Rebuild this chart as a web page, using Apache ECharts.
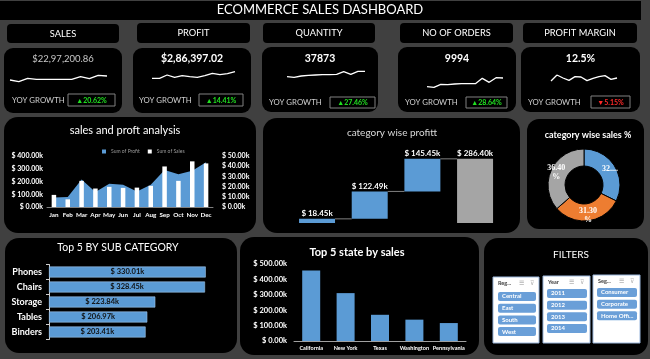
<!DOCTYPE html>
<html><head><meta charset="utf-8">
<script src="https://cdn.jsdelivr.net/npm/echarts@6/dist/echarts.min.js"></script>
<style>html,body{margin:0;padding:0;background:#404040}#c{width:650px;height:359px}</style>
</head><body><div id="c"></div>
<script>
// ---------- DATA ----------
const months = ['Jan','Feb','Mar','Apr','May','Jun','Jul','Aug','Sep','Oct','Nov','Dec'];
const monthlySales = [95,60,205,145,158,150,152,166,318,205,358,342];          // $k
const monthlyProfit = [9.2,9.9,27,14.8,22.7,21.7,15.1,21.7,36.2,32.2,35.5,43.8]; // $k
const salesTicks = [0,100,200,300,400];
const profitTicks = [0,10,20,30,40,50];
const profitCategories = ['Furniture','Office Supplies','Technology','Total'];
const categoryProfit = [18.45,122.49,145.45];
const categoryProfitTotal = 286.40;
const pieCategories = ['Furniture','Office Supplies','Technology'];
const pieShare = [32.30,31.30,36.40];
const pieLabels = ['32....','31.30\n%','36.40\n%'];
const subCategories = ['Phones','Chairs','Storage','Tables','Binders'];
const subCategorySales = [330.01,328.45,223.84,206.97,203.41];
const states = ['California','New York','Texas','Washington','Pennsylvania'];
const stateSales = [457.69,310.88,170.19,138.64,116.51];
const stateTicks = [0,100,200,300,400,500];
const regions = ['Central','East','South','West'];
const years = ['2011','2012','2013','2014'];
const segments = ['Consumer','Corporate','Home Offi...'];
const slicerHeaders = ['Reg...','Year','Seg...'];
const kpiNames = ['SALES','PROFIT','QUANTITY','NO OF ORDERS','PROFIT MARGIN'];
const kpiValues = ['$22,97,200.86','$2,86,397.02','37873','9994','12.5%'];
const kpiGrowth = ['▲20.62%','▲14.41%','▲27.46%','▲28.64%','▼5.15%'];
const sparkSales = [15,10,20,17,17,17,17,17,25,19,29,27];
const sparkProfit = [20,20,30,23,28,25,23,28,35,31,34,40];
const sparkQuantity = [25,23,27,29,30,31,31,32,40,32,41,41];
const sparkOrders = [25,23,32,31,33,34,34,34,50,38,52,51];
const sparkMargin = [42,60,51,44,55,54,43,50,55,58,47,51];

// ---------- LAYOUT ----------
const F = 'Lato, "Open Sans", sans-serif';
const BLUE = '#5b9bd5', ORANGE = '#ed7d31', GRAY = '#a5a5a5';
const headerBoxes = [[7,24,112,19],[137,23,113,20],[263,23,112,20],[400,23,113,20],[523,23,114,20]];
const kpiCards = [[4,48,118,65],[133,48,118,65],[262,47,116,65],[398,47,118,65],[521,47,119,65]];
const growthBoxes = [[68,94,47,12],[199,94,44,12],[330,97,45,11],[466,97,41,11],[591,96,39,12]];
const yoyPos = [[12,100],[139,100],[269,102],[405,102],[528,102]];
const sparkGrids = [[10,97,65],[152,83,65],[287,78,65],[427,76,75],[551,66,75]];
const sparkData = [sparkSales,sparkProfit,sparkQuantity,sparkOrders,sparkMargin];
const panels = [[4,117,252,116,14],[263,118,257,115,14],[527,119,117,110,12],[5,238,232,115,14],[240,237,239,118,14],[484,238,164,117,14]];
const slicerBoxes = [[493,277,46,66],[543,276,47,67],[593,275,47,68]];

const chart = echarts.init(document.getElementById('c'));
const g = [];
function rect(x,y,w,h,r,fill,extra){g.push(Object.assign({type:'rect',z:0,shape:{x,y,width:w,height:h,r:r||0},style:{fill}},extra||{}));}
function text(t,x,y,font,fill,align,extra){g.push(Object.assign({type:'text',z:10,style:{text:t,x,y,font,fill,align:align||'center',verticalAlign:'middle'}},extra||{}));}

rect(0,1,641,19,0,'#000');
text('ECOMMERCE SALES DASHBOARD',320,10,'13px '+F,'#fff');
headerBoxes.forEach((b,i)=>{rect(b[0],b[1],b[2],b[3],4,'#000');text(kpiNames[i],b[0]+b[2]/2,b[1]+b[3]/2,'9.3px '+F,'#fff');});
kpiCards.forEach((b,i)=>{
  rect(b[0],b[1],b[2],b[3],9,'#000');
  text(kpiValues[i],b[0]+b[2]/2,59,(i===0?'9.5px ':'bold 10.5px ')+F,i===0?'#c8c8c8':'#fff');
  text('YOY GROWTH',yoyPos[i][0],yoyPos[i][1],'7.8px '+F,'#d0d0d0','left');
  const gb=growthBoxes[i];
  g.push({type:'rect',z:5,shape:{x:gb[0],y:gb[1],width:gb[2],height:gb[3]},style:{fill:'#000',stroke:'#808080',lineWidth:1}});
  text(kpiGrowth[i],gb[0]+gb[2]/2,gb[1]+gb[3]/2+0.5,'bold 7px '+F,i===4?'#ff2a2a':'#20e020');
});
panels.forEach(p=>rect(p[0],p[1],p[2],p[3],p[4],'#000'));
text('sales and proft analysis',125,130,'11px '+F,'#fff');
text('category wise profitt',392,133,'10px '+F,'#d9d9d9');
text('category wise sales %',588,135,'bold 9px '+F,'#fff');
text('Top 5 BY SUB CATEGORY',118,248,'10.5px '+F,'#fff');
text('Top 5 state by sales',357,252,'bold 11px '+F,'#fff');
text('FILTERS',571,255,'10px '+F,'#fff');
slicerBoxes.forEach((b,i)=>{
  g.push({type:'rect',z:1,shape:{x:b[0],y:b[1],width:b[2],height:b[3]},style:{fill:'#fff',stroke:'#9bb7dc',lineWidth:1}});
  text(slicerHeaders[i],b[0]+5,b[1]+6,'bold 5.5px '+F,'#404040','left');
  text('☰',b[0]+26,b[1]+6,'6px DejaVu Sans','#909090','left');
  text('⊽',b[0]+37,b[1]+6,'6px DejaVu Sans','#b0b0b0','left');
});

const grid=[], xAxis=[], yAxis=[], series=[];
function addGrid(gr,xa,ya){grid.push(gr);const gi=grid.length-1;xa.gridIndex=gi;ya.gridIndex=gi;xAxis.push(xa);yAxis.push(ya);return [xAxis.length-1,yAxis.length-1];}

// sparklines
sparkGrids.forEach((s,i)=>{
  const [xi,yi]=addGrid({left:s[0],width:s[1],top:s[2],height:20},
    {type:'category',show:false,boundaryGap:false,data:months},
    {type:'value',show:false,min:0,max:60});
  series.push({type:'line',xAxisIndex:xi,yAxisIndex:yi,data:sparkData[i],symbol:'none',lineStyle:{color:'#fff',width:1.3},z:5});
});

// sales & profit
grid.push({left:47,width:166,top:156,height:51});
const gSP=grid.length-1;
xAxis.push({gridIndex:gSP,type:'category',data:months,axisLine:{show:true,lineStyle:{color:'#7f7f7f'}},axisTick:{show:false},
  axisLabel:{color:'#fff',fontWeight:'bold',fontSize:6.3,fontFamily:F,margin:5,interval:0}});
const xSP=xAxis.length-1;
yAxis.push({gridIndex:gSP,type:'value',min:salesTicks[0],max:salesTicks[salesTicks.length-1],interval:100,splitLine:{show:false},
  axisLabel:{color:'#fff',fontWeight:'bold',fontSize:7,fontFamily:F,margin:4,formatter:v=>'$ '+v.toFixed(2)+'k'}});
const ySL=yAxis.length-1;
yAxis.push({gridIndex:gSP,type:'value',position:'right',min:profitTicks[0],max:profitTicks[profitTicks.length-1],interval:10,splitLine:{show:false},
  axisLabel:{color:'#fff',fontWeight:'bold',fontSize:7,fontFamily:F,margin:9,formatter:v=>'$ '+v.toFixed(2)+'k'}});
const ySR=yAxis.length-1;
series.push({name:'Sum of Profit',type:'line',xAxisIndex:xSP,yAxisIndex:ySR,data:monthlyProfit,symbol:'none',lineStyle:{width:0},areaStyle:{color:BLUE,opacity:1},itemStyle:{color:BLUE},z:2});
series.push({name:'Sum of Sales',type:'bar',xAxisIndex:xSP,yAxisIndex:ySL,data:monthlySales,barWidth:4.5,itemStyle:{color:'#fff'},z:3});

// waterfall
{
  const [xi,yi]=addGrid({left:290.7,width:210.7,top:133.4,height:89.6},
    {type:'category',show:false,data:profitCategories},
    {type:'value',show:false,min:0,max:400});
  const wf=[]; let cum=0;
  categoryProfit.forEach((v,i)=>{wf.push([i,cum,cum+v,v]);cum+=v;});
  wf.push([categoryProfit.length,0,categoryProfitTotal,categoryProfitTotal]);
  const n=wf.length;
  series.push({type:'custom',xAxisIndex:xi,yAxisIndex:yi,data:wf,z:5,
    renderItem:(params,api)=>{
      const i=api.value(0),s=api.value(1),e=api.value(2),v=api.value(3);
      const p0=api.coord([i,s]),p1=api.coord([i,e]);
      const w=api.size([1,0])[0]*0.683;
      const ch=[{type:'rect',shape:{x:p0[0]-w/2,y:p1[1],width:w,height:Math.max(p0[1]-p1[1],1)},style:{fill:i===n-1?GRAY:BLUE}}];
      if(i<n-1){const pn=api.coord([i+1,e]);ch.push({type:'line',shape:{x1:p0[0]+w/2,y1:p1[1],x2:pn[0]-w/2,y2:p1[1]},style:{stroke:'#808080',lineWidth:1}});}
      ch.push({type:'text',style:{text:'$ '+v.toFixed(2)+'k',x:p0[0],y:p1[1]-1.5,align:'center',verticalAlign:'bottom',fill:'#fff',font:'bold 8px '+F}});
      return {type:'group',children:ch};
    }});
}

// sub category
{
  const [xi,yi]=addGrid({left:49,width:190,top:264.5,height:75},
    {type:'value',show:false,min:0,max:400,splitLine:{show:false}},
    {type:'category',inverse:true,data:subCategories,axisLine:{show:true,lineStyle:{color:'#d0d0d0'}},axisTick:{show:true,length:3,lineStyle:{color:'#d0d0d0'}},
     axisLabel:{color:'#fff',fontWeight:'bold',fontSize:9,fontFamily:F,margin:7}});
  series.push({type:'bar',xAxisIndex:xi,yAxisIndex:yi,data:subCategorySales,barWidth:11,itemStyle:{color:BLUE,borderColor:'#9dc3e6',borderWidth:0.6},
    label:{show:true,position:'inside',color:'#111',fontWeight:'bold',fontSize:7.5,fontFamily:F,formatter:p=>'$ '+p.value.toFixed(2)+'k'}});
}

// states
{
  const [xi,yi]=addGrid({left:294,width:172,top:264,height:77},
    {type:'category',data:states,axisLine:{show:true,lineStyle:{color:'#a0a0a0'}},axisTick:{show:false},
     axisLabel:{color:'#fff',fontWeight:'bold',fontSize:5.5,fontFamily:F,margin:4,interval:0}},
    {type:'value',min:stateTicks[0],max:stateTicks[stateTicks.length-1],interval:100,splitLine:{show:false},
     axisLabel:{color:'#fff',fontWeight:'bold',fontSize:7.5,fontFamily:F,margin:7,formatter:v=>'$ '+v.toFixed(2)+'k'}});
  series.push({type:'bar',xAxisIndex:xi,yAxisIndex:yi,data:stateSales,barWidth:18,itemStyle:{color:BLUE}});
}

// slicers
[[regions,498,38,290.65],[years,547,40,287.6],[segments,597,40,286.6]].forEach(([items,left,width,top])=>{
  const [xi,yi]=addGrid({left,width,top,height:items.length*11.7},
    {type:'value',show:false,min:0,max:1},
    {type:'category',show:false,inverse:true,data:items});
  series.push({type:'bar',xAxisIndex:xi,yAxisIndex:yi,data:items.map(()=>1),barWidth:9,z:5,
    itemStyle:{color:'#6a9fd8',borderRadius:2},
    label:{show:true,position:'insideLeft',distance:4,color:'#fff',fontWeight:'bold',fontSize:6,fontFamily:F,formatter:p=>p.name}});
});

// pie
series.push({type:'pie',center:[584,185],radius:[19,36],startAngle:90,clockwise:true,z:5,
  data:pieCategories.map((c,i)=>({name:c,value:pieShare[i]})),
  color:[BLUE,ORANGE,GRAY],itemStyle:{borderColor:'#000',borderWidth:1},
  label:{show:true,position:'inside',color:'#fff',fontWeight:'bold',fontSize:8,lineHeight:9,fontFamily:'Liberation Serif, serif',formatter:p=>pieLabels[p.dataIndex]},
  labelLine:{show:false},emphasis:{disabled:true}});

chart.setOption({
  backgroundColor:'#404040',animation:false,
  graphic:{elements:g},
  legend:{data:['Sum of Profit','Sum of Sales'],left:97,top:144,itemWidth:4,itemHeight:4,itemGap:8,icon:'rect',
    textStyle:{color:'#9a9a9a',fontSize:5,fontFamily:F}},
  grid,xAxis,yAxis,series
});
</script></body></html>
